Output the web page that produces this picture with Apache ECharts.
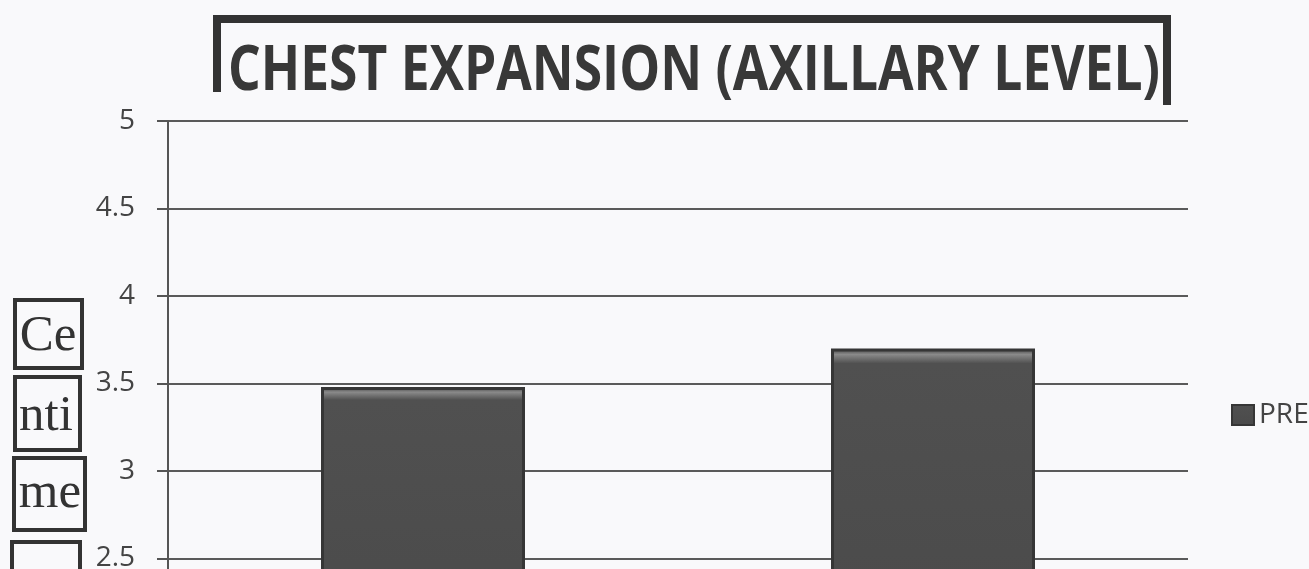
<!DOCTYPE html>
<html>
<head>
<meta charset="utf-8">
<script src="https://cdn.jsdelivr.net/npm/echarts@6/dist/echarts.min.js"></script>
<style>
  html, body { margin: 0; padding: 0; background: #f9f9fb; }
  #chart { width: 1309px; height: 569px; }
</style>
</head>
<body>
<div id="chart"></div>
<script>
const categories = ['Group 1', 'Group 2'];
const preValues = [3.48, 3.7];
const seriesName = 'PRE';
const titleText = 'CHEST EXPANSION (AXILLARY LEVEL)';
const yAxisTitleParts = ['Ce', 'nti', 'me', 'ter'];
const yMin = 2, yMax = 5, yInterval = 0.5;

const chart = echarts.init(document.getElementById('chart'));

// horizontal compression of the title to mimic the narrow original font
const titleFont = 'bold 62px "Open Sans"';
const ctx = document.createElement('canvas').getContext('2d');
ctx.font = titleFont;
const titleScaleX = 932 / ctx.measureText(titleText).width;

const boxes = [
  { x: 15, y: 300, w: 67, h: 68, cx: 48, cy: 337 },
  { x: 15, y: 377, w: 65, h: 73, cx: 46, cy: 417 },
  { x: 14, y: 458, w: 71, h: 72, cx: 50, cy: 494 },
  { x: 12, y: 542, w: 68, h: 72, cx: 46, cy: 590 }
];

const graphics = [];
boxes.forEach((b, i) => {
  graphics.push({
    type: 'rect', silent: true,
    shape: { x: b.x, y: b.y, width: b.w, height: b.h },
    style: { fill: 'none', stroke: '#333', lineWidth: 4 }
  });
  graphics.push({
    type: 'text', silent: true, x: b.cx, y: b.cy,
    style: { text: yAxisTitleParts[i], font: '51px "Liberation Serif"', fill: '#333',
             textAlign: 'center', textVerticalAlign: 'middle' }
  });
});
// title frame
graphics.push({
  type: 'polyline', silent: true,
  shape: { points: [[217, 92], [217, 19], [1167, 19], [1167, 105]] },
  style: { fill: 'none', stroke: '#333', lineWidth: 8 }
});
graphics.push({
  type: 'text', silent: true, x: 228, y: 72, scaleX: titleScaleX,
  style: { text: titleText, font: titleFont, fill: '#383838',
           textAlign: 'left', textVerticalAlign: 'middle' }
});

chart.setOption({
  backgroundColor: '#f9f9fb',
  animation: false,
  grid: { left: 168, right: 121, top: 121, height: 525, containLabel: false, outerBoundsMode: 'none' },
  legend: {
    left: 1226, top: 396, itemWidth: 22, itemHeight: 20, icon: 'rect',
    textStyle: { fontSize: 28, color: '#444', fontFamily: 'Open Sans' },
    data: [seriesName]
  },
  xAxis: {
    type: 'category', data: categories,
    axisLine: { show: false }, axisTick: { show: false }, axisLabel: { show: false }
  },
  yAxis: {
    type: 'value', min: yMin, max: yMax, interval: yInterval,
    axisLine: { show: true, lineStyle: { color: '#555', width: 2 } },
    axisTick: { show: true, length: 11, lineStyle: { color: '#555', width: 2 } },
    axisLabel: { margin: 33, fontSize: 28, color: '#444', fontFamily: 'Open Sans' },
    splitLine: { show: true, lineStyle: { color: '#5a5a5a', width: 2 } }
  },
  series: [{
    name: seriesName, type: 'bar', data: preValues, barWidth: '40%',
    itemStyle: {
      color: {
        type: 'linear', x: 0, y: 0, x2: 0, y2: 1,
        colorStops: [
          { offset: 0, color: '#3e3e3e' },
          { offset: 0.02, color: '#8a8a8a' },
          { offset: 0.05, color: '#505050' },
          { offset: 1, color: '#4a4a4a' }
        ]
      },
      borderColor: '#363636', borderWidth: 3
    }
  }],
  graphic: graphics
});
</script>
</body>
</html>
